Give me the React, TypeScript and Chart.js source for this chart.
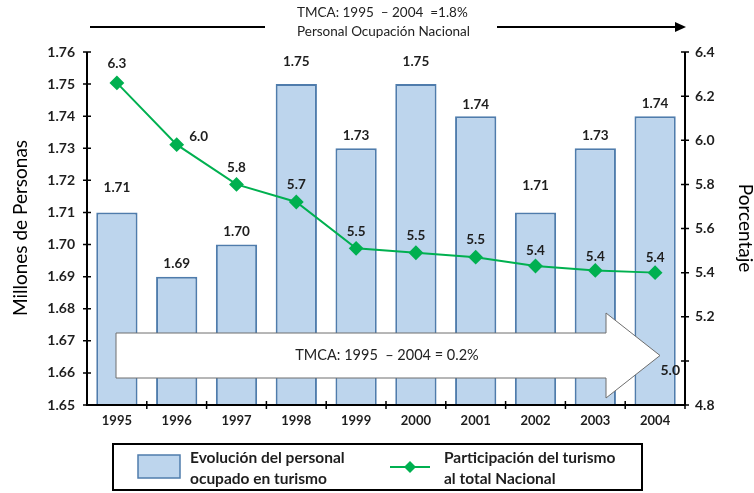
import React, { useEffect, useRef } from "react";
import { Chart, registerables } from "chart.js";

Chart.register(...registerables);

const years = ["1995", "1996", "1997", "1998", "1999", "2000", "2001", "2002", "2003", "2004"];
const personal = [1.71, 1.69, 1.70, 1.75, 1.73, 1.75, 1.74, 1.71, 1.73, 1.74];
const participacion = [6.26, 5.98, 5.80, 5.72, 5.51, 5.49, 5.47, 5.43, 5.41, 5.40];
const leftTicks = { min: 1.65, max: 1.76, step: 0.01 };
const rightTicks = { min: 4.8, max: 6.4, step: 0.2 };
const topTitle1 = "TMCA: 1995  \u2013 2004  =1.8%";
const topTitle2 = "Personal Ocupaci\u00f3n Nacional";
const arrowText = "TMCA: 1995  \u2013 2004 = 0.2%";
const legendBar = ["Evoluci\u00f3n del personal", "ocupado en turismo"];
const legendLine = ["Participaci\u00f3n del turismo", "al total Nacional"];

const FONT = "Lato, 'DejaVu Sans', sans-serif";
const BAR_FILL = "#BDD5ED";
const BAR_BORDER = "#4F7CAC";
const GREEN = "#00B050";
const TEXT = "#1E1E1E";

const barLabelDy = [-25, -13, -13, -22, -13, -22, -12, -27, -13, -13];
const lineLabelOff = [[0, -19], [22, -8], [0, -17], [0, -17], [0, -17], [0, -17], [0, -18], [0, -15], [0, -14], [0, -15]];

const overlay = {
  id: "overlay",
  afterDatasetsDraw(chart: any) {
    const ctx = chart.ctx as CanvasRenderingContext2D;
    const area = chart.chartArea;
    const y = chart.scales.y;
    const y1 = chart.scales.y1;
    ctx.save();

    // big white arrow
    const bTop = 333, bBot = 378, bL = 116, hx = 606, tip = 660;
    const mid = (bTop + bBot) / 2;
    ctx.beginPath();
    ctx.moveTo(bL, bTop);
    ctx.lineTo(hx, bTop);
    ctx.lineTo(hx, 313);
    ctx.lineTo(tip, mid);
    ctx.lineTo(hx, 398);
    ctx.lineTo(hx, bBot);
    ctx.lineTo(bL, bBot);
    ctx.closePath();
    ctx.fillStyle = "#FFFFFF";
    ctx.fill();
    ctx.strokeStyle = "#6E6E6E";
    ctx.lineWidth = 1;
    ctx.stroke();
    ctx.fillStyle = "#222";
    ctx.font = `14.5px ${FONT}`;
    ctx.textAlign = "center";
    ctx.textBaseline = "middle";
    ctx.fillText(arrowText, 387, mid);

    // axes lines
    ctx.strokeStyle = "#000";
    ctx.lineWidth = 2;
    ctx.beginPath();
    ctx.moveTo(area.left, area.top);
    ctx.lineTo(area.left, area.bottom);
    ctx.lineTo(area.right, area.bottom);
    ctx.moveTo(area.right, area.top);
    ctx.lineTo(area.right, area.bottom);
    ctx.stroke();
    ctx.lineWidth = 1.5;
    ctx.beginPath();
    y.ticks.forEach((t: any) => {
      const py = y.getPixelForValue(t.value);
      ctx.moveTo(area.left - 4, py);
      ctx.lineTo(area.left + 4, py);
    });
    y1.ticks.forEach((t: any) => {
      const py = y1.getPixelForValue(t.value);
      ctx.moveTo(area.right - 4, py);
      ctx.lineTo(area.right + 4, py);
    });
    const cw = (area.right - area.left) / years.length;
    for (let i = 1; i <= years.length; i++) {
      const px = area.left + i * cw;
      ctx.moveTo(px, area.bottom - 4);
      ctx.lineTo(px, area.bottom + 4);
    }
    ctx.stroke();

    // data labels
    ctx.fillStyle = TEXT;
    ctx.font = `bold 13.5px ${FONT}`;
    ctx.textAlign = "center";
    ctx.textBaseline = "middle";
    const barMeta = chart.getDatasetMeta(1);
    barMeta.data.forEach((el: any, i: number) => {
      ctx.fillText(personal[i].toFixed(2), el.x, el.y + barLabelDy[i]);
    });
    const lineMeta = chart.getDatasetMeta(0);
    lineMeta.data.forEach((el: any, i: number) => {
      ctx.fillText(participacion[i].toFixed(1), el.x + lineLabelOff[i][0], el.y + lineLabelOff[i][1]);
    });
    // displaced 5.0 axis label
    ctx.font = `bold 14px ${FONT}`;
    ctx.textAlign = "right";
    ctx.fillText("5.0", area.right - 5, y1.getPixelForValue(5.0) + 10);

    // top annotation
    ctx.font = `13.5px ${FONT}`;
    ctx.textAlign = "left";
    ctx.fillStyle = "#222";
    ctx.fillText(topTitle1, 297, 13);
    ctx.fillText(topTitle2, 297, 32);
    ctx.strokeStyle = "#000";
    ctx.lineWidth = 2;
    ctx.beginPath();
    ctx.moveTo(90, 27);
    ctx.lineTo(265, 27);
    ctx.moveTo(497, 27);
    ctx.lineTo(676, 27);
    ctx.stroke();
    ctx.fillStyle = "#000";
    ctx.beginPath();
    ctx.moveTo(686, 27);
    ctx.lineTo(675, 22);
    ctx.lineTo(675, 32);
    ctx.closePath();
    ctx.fill();

    // axis titles
    ctx.fillStyle = "#000";
    ctx.font = `19px ${FONT}`;
    ctx.textAlign = "center";
    ctx.save();
    ctx.translate(21, 228);
    ctx.rotate(-Math.PI / 2);
    ctx.fillText("Millones de Personas", 0, 0);
    ctx.restore();
    ctx.save();
    ctx.translate(745, 228);
    ctx.rotate(Math.PI / 2);
    ctx.fillText("Porcentaje", 0, 0);
    ctx.restore();

    // legend
    ctx.strokeStyle = "#000";
    ctx.lineWidth = 2;
    ctx.strokeRect(113, 444, 529, 46);
    ctx.fillStyle = BAR_FILL;
    ctx.fillRect(138, 455, 42, 23);
    ctx.strokeStyle = BAR_BORDER;
    ctx.lineWidth = 1.5;
    ctx.strokeRect(138, 455, 42, 23);
    ctx.strokeStyle = GREEN;
    ctx.lineWidth = 2;
    ctx.beginPath();
    ctx.moveTo(390, 467);
    ctx.lineTo(430, 467);
    ctx.stroke();
    ctx.fillStyle = GREEN;
    ctx.beginPath();
    ctx.moveTo(410, 461);
    ctx.lineTo(416, 467);
    ctx.lineTo(410, 473);
    ctx.lineTo(404, 467);
    ctx.closePath();
    ctx.fill();
    ctx.fillStyle = TEXT;
    ctx.font = `bold 15.5px ${FONT}`;
    ctx.textAlign = "left";
    ctx.fillText(legendBar[0], 190, 458);
    ctx.fillText(legendBar[1], 190, 479);
    ctx.fillText(legendLine[0], 444, 458);
    ctx.fillText(legendLine[1], 444, 479);

    ctx.restore();
  },
};

export default function App() {
  const ref = useRef<HTMLCanvasElement | null>(null);
  useEffect(() => {
    if (!ref.current) return;
    const chart = new Chart(ref.current, {
      type: "bar",
      data: {
        labels: years,
        datasets: [
          {
            type: "line",
            label: legendLine.join(" "),
            data: participacion,
            yAxisID: "y1",
            borderColor: GREEN,
            backgroundColor: GREEN,
            borderWidth: 2,
            pointStyle: "rectRot",
            pointRadius: 6,
            pointBackgroundColor: GREEN,
            pointBorderColor: GREEN,
            tension: 0,
            order: 0,
          } as any,
          {
            type: "bar",
            label: legendBar.join(" "),
            data: personal,
            yAxisID: "y",
            backgroundColor: BAR_FILL,
            borderColor: BAR_BORDER,
            borderWidth: 2,
            barPercentage: 0.69,
            categoryPercentage: 1,
            order: 1,
          } as any,
        ],
      },
      options: {
        responsive: false,
        animation: false,
        layout: { padding: { top: 52, left: 0, right: 0, bottom: 0 } },
        plugins: { legend: { display: false }, tooltip: { enabled: false }, title: { display: false } },
        scales: {
          x: {
            grid: { display: false, drawTicks: false },
            border: { display: false },
            ticks: { font: { family: FONT, size: 13, weight: "bold" }, color: TEXT, padding: 8 },
            afterFit: (s: any) => { s.height = 88; },
          },
          y: {
            position: "left",
            min: leftTicks.min,
            max: leftTicks.max,
            grid: { display: false, drawTicks: false },
            border: { display: false },
            ticks: {
              stepSize: leftTicks.step,
              font: { family: FONT, size: 14, weight: "bold" },
              color: TEXT,
              padding: 12,
              callback: (v: any) => Number(v).toFixed(2),
            },
            afterFit: (s: any) => { s.width = 87; },
          },
          y1: {
            position: "right",
            min: rightTicks.min,
            max: rightTicks.max,
            grid: { display: false, drawTicks: false },
            border: { display: false },
            ticks: {
              stepSize: rightTicks.step,
              font: { family: FONT, size: 14, weight: "bold" },
              color: TEXT,
              padding: 10,
              callback: (v: any) => (Math.abs(Number(v) - 5) < 1e-6 ? "" : Number(v).toFixed(1)),
            },
            afterFit: (s: any) => { s.width = 69; },
          },
        },
      } as any,
      plugins: [overlay],
    });
    return () => chart.destroy();
  }, []);
  return (
    <div style={{ position: "absolute", left: 0, top: 0, width: 754, height: 493, background: "#fff" }}>
      <canvas ref={ref} width={754} height={493} style={{ display: "block" }} />
    </div>
  );
}
